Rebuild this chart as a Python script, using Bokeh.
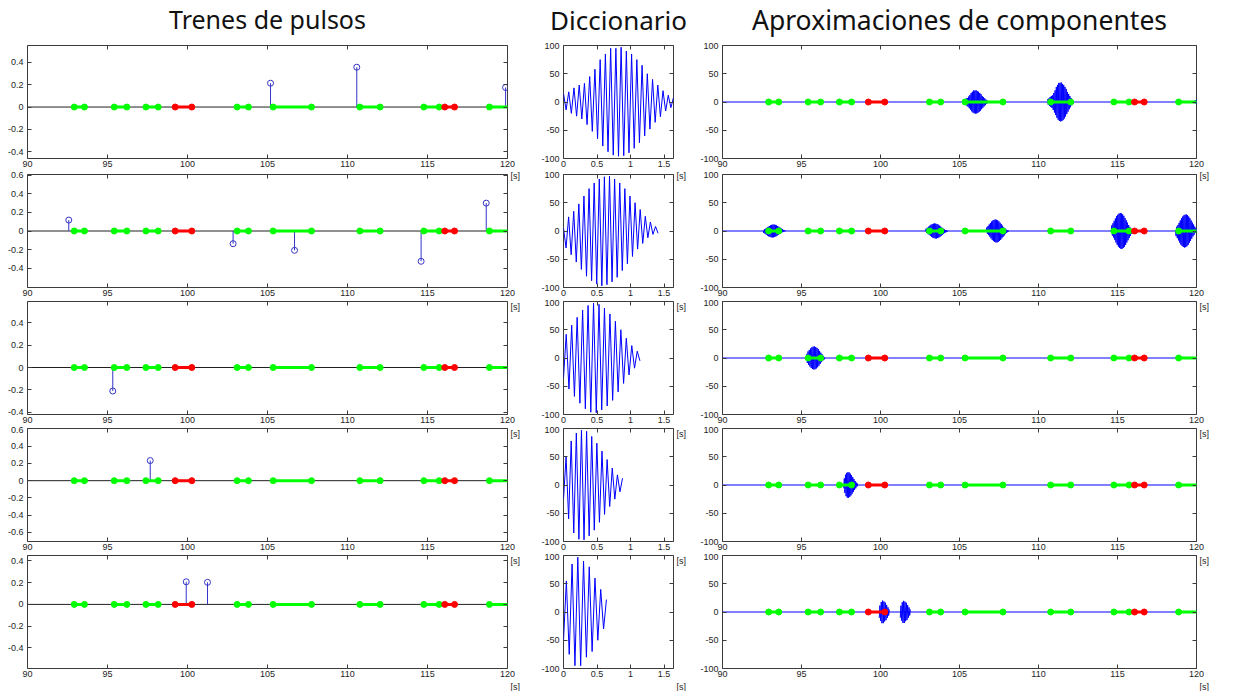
import numpy as np
from bokeh.plotting import figure
from bokeh.models import (Range1d, LinearAxis, FixedTicker, Span, Title,
                          CustomJSTickFormatter)
from bokeh.core.properties import value
from bokeh.layouts import column, row
from bokeh.embed import file_html
from bokeh.resources import INLINE

# ---------------- data ----------------
TITLES = ["Trenes de pulsos", "Diccionario", "Aproximaciones de componentes"]
TIME_WINDOW = (90, 120)
TIME_TICKS = [90, 95, 100, 105, 110, 115, 120]
UNIT = "[s]"

# marked intervals (same in every time panel)
GREEN_START = [92.92, 95.42, 97.40, 103.10, 105.35, 110.77, 114.77, 118.87]
GREEN_END = [93.56, 96.21, 98.17, 103.81, 107.75, 112.04, 115.73, 120.60]
RED_START = [99.23, 116.08]
RED_END = [100.27, 116.69]

# pulse trains (one list per row)
PULSE_T = [
    [105.19, 110.58, 119.88],
    [92.58, 102.85, 106.69, 114.60, 118.67],
    [95.33],
    [97.67],
    [99.92, 101.25],
]
PULSE_V = [
    [0.213, 0.356, 0.175],
    [0.118, -0.137, -0.209, -0.327, 0.301],
    [-0.21],
    [0.233],
    [0.208, 0.203],
]
PULSE_YLIM = [(-0.46, 0.55), (-0.61, 0.61), (-0.42, 0.59), (-0.705, 0.605), (-0.59, 0.45)]
PULSE_YTICKS = [
    [-0.4, -0.2, 0, 0.2, 0.4],
    [-0.4, -0.2, 0, 0.2, 0.4, 0.6],
    [-0.4, -0.2, 0, 0.2, 0.4],
    [-0.6, -0.4, -0.2, 0, 0.2, 0.4, 0.6],
    [-0.4, -0.2, 0, 0.2, 0.4],
]

# dictionary atoms: successive extrema (start, peaks/troughs, end), spread over the atom duration
ATOM_DUR = [1.64, 1.41, 1.14, 0.88, 0.64]
ATOM_1 = [15, -14, 18, -20, 25, -25, 30, -30, 33, -40, 45, -52, 58, -65, 75, -78, 85, -88,
          95, -94, 95, -96, 97, -95, 90, -90, 85, -82, 75, -72, 65, -60, 50, -48, 40, -36,
          30, -26, 20, -16, 12, -10, 8]
ATOM_2 = [5, -30, 25, -42, 35, -55, 48, -68, 62, -80, 75, -88, 85, -94, 92, -97, 96, -95,
          97, -90, 92, -82, 85, -70, 75, -58, 62, -45, 50, -32, 38, -22, 26, -12, 16, -6, 8, -4]
ATOM_3 = [-35, 42, -55, 58, -68, 72, -80, 85, -90, 93, -96, 97, -97, 95, -92, 88, -85, 78,
          -75, 65, -60, 50, -45, 35, -30, 22, -18, 12, -5]
ATOM_4 = [-25, 50, -60, 78, -85, 92, -96, 97, -97, 95, -90, 86, -80, 74, -66, 60, -52, 45,
          -38, 30, -25, 18, -12, 12]
ATOM_5 = [-50, 55, -75, 85, -95, 97, -95, 90, -80, 80, -70, 60, -50, 40, -30, 22]
ATOMS = [ATOM_1, ATOM_2, ATOM_3, ATOM_4, ATOM_5]
DICT_XLIM = (0, 1.64)
DICT_XTICKS = [0, 0.5, 1, 1.5]
AMP_LIM = (-100, 100)
AMP_TICKS = [-100, -50, 0, 50, 100]

# ---------------- style / layout ----------------
HEADER_H = 42
TITLE_TOP = 1                # px from top of page to the top of the title text box
FRAME_H = 113
ROW_TOP = [3, 4, 2, 2, 2]
ROW_BOTTOM = [12, 12, 12, 12, 23]
COL_FRAME_W = [480, 110, 474]
COL_LEFT = [27, 40, 33]
COL_RIGHT = [16, 16, 30]
TITLE_SIZE = ["25px", "26px", "26.5px"]
BOX = "#3c3c3c"
TXT = "#1e1e1e"
TICK_FONT = "Liberation Sans"
TITLE_FONT = "Noto Sans"
STEM = "#3535c8"
GREEN = "#00ff00"
RED = "#ff0000"
WAVE = "#0000ff"

num_fmt = CustomJSTickFormatter(code="return String(tick);")
blank_fmt = CustomJSTickFormatter(code="return '';")
unit_fmt = CustomJSTickFormatter(code="return '%s';" % UNIT)


def style_axis(ax, ticks, show_labels, standoff):
    ax.ticker = FixedTicker(ticks=ticks)
    ax.minor_tick_line_color = None
    ax.major_tick_in = 4
    ax.major_tick_out = 0
    ax.major_tick_line_color = BOX
    ax.axis_line_color = None
    ax.major_label_text_font = TICK_FONT
    ax.major_label_text_color = TXT
    if show_labels:
        ax.formatter = num_fmt
        ax.major_label_text_font_size = "9px"
        ax.major_label_standoff = standoff
    else:
        ax.formatter = blank_fmt
        ax.major_label_text_font_size = "1px"
        ax.major_label_standoff = 0


def make_fig(r, c, xr, yr, xticks, yticks):
    p = figure(frame_width=COL_FRAME_W[c], frame_height=FRAME_H,
               x_range=Range1d(*xr), y_range=Range1d(*yr),
               min_border_left=COL_LEFT[c], min_border_right=COL_RIGHT[c],
               min_border_top=ROW_TOP[r], min_border_bottom=ROW_BOTTOM[r],
               output_backend="svg", toolbar_location=None, title=None,
               background_fill_color="white", border_fill_color="white",
               outline_line_color=BOX, outline_line_width=1)
    p.xgrid.visible = False
    p.ygrid.visible = False
    style_axis(p.xaxis[0], xticks, True, 2)
    style_axis(p.yaxis[0], yticks, True, 4)
    top = LinearAxis()
    style_axis(top, xticks, False, 0)
    p.add_layout(top, "above")
    right = LinearAxis()
    style_axis(right, yticks, False, 0)
    p.add_layout(right, "right")
    if r > 0:
        # unit label of the panel above, shown at this panel's top-right corner
        span = yr[1] - yr[0]
        upos = yr[1] - span * 1.0 / FRAME_H
        unit_ax = LinearAxis(ticker=FixedTicker(ticks=[upos]), formatter=unit_fmt,
                             major_tick_line_color=None, minor_tick_line_color=None,
                             axis_line_color=None, major_tick_in=0, major_tick_out=0,
                             major_label_standoff=3, major_label_text_font=TICK_FONT,
                             major_label_text_font_size="9px", major_label_text_color=TXT)
        p.add_layout(unit_ax, "right")
    if r == 4:
        p.add_layout(Title(text=UNIT, align="left", offset=COL_FRAME_W[c] + 3,
                           text_font=TICK_FONT, text_font_size="9px",
                           text_font_style="normal", text_color=TXT, standoff=0), "below")
    return p


def add_intervals(p):
    p.segment(x0=GREEN_START, y0=[0] * len(GREEN_START), x1=GREEN_END, y1=[0] * len(GREEN_END),
              line_color=GREEN, line_width=3)
    p.scatter(x=GREEN_START + GREEN_END, y=[0] * (2 * len(GREEN_START)), marker="circle",
              size=6, fill_color=GREEN, line_color=GREEN)
    p.segment(x0=RED_START, y0=[0] * len(RED_START), x1=RED_END, y1=[0] * len(RED_END),
              line_color=RED, line_width=3)
    p.scatter(x=RED_START + RED_END, y=[0] * (2 * len(RED_START)), marker="circle",
              size=6, fill_color=RED, line_color=RED)


# ---- header with the three column titles ----
col_w = [COL_LEFT[i] + COL_FRAME_W[i] + COL_RIGHT[i] for i in range(3)]
total_w = sum(col_w)
header = figure(width=total_w, height=HEADER_H, x_range=Range1d(0, total_w),
                y_range=Range1d(0, HEADER_H), min_border=0, toolbar_location=None,
                output_backend="svg", x_axis_location=None, y_axis_location=None,
                title=None, outline_line_color=None, background_fill_color="white",
                border_fill_color="white")
header.xgrid.visible = False
header.ygrid.visible = False
for i in range(3):
    cx = sum(col_w[:i]) + COL_LEFT[i] + COL_FRAME_W[i] / 2.0
    header.text(x=[cx], y=[HEADER_H - TITLE_TOP], text=[TITLES[i]],
                text_font=value(TITLE_FONT), text_font_size=value(TITLE_SIZE[i]),
                text_align="center", text_baseline="top", text_color="#111111")

rows = [header]
for r in range(5):
    atom_v = np.array(ATOMS[r], dtype=float)
    atom_t = np.linspace(0, ATOM_DUR[r], len(atom_v))

    # pulse train
    pl = make_fig(r, 0, TIME_WINDOW, PULSE_YLIM[r], TIME_TICKS, PULSE_YTICKS[r])
    pl.add_layout(Span(location=0, dimension="width", line_color="#202020", line_width=1,
                       level="underlay"))
    pl.segment(x0=PULSE_T[r], y0=[0] * len(PULSE_T[r]), x1=PULSE_T[r], y1=PULSE_V[r],
               line_color=STEM, line_width=1)
    pl.scatter(x=PULSE_T[r], y=PULSE_V[r], marker="circle", size=6, fill_color=None,
               line_color=STEM, line_width=1)
    add_intervals(pl)

    # dictionary atom
    pm = make_fig(r, 1, DICT_XLIM, AMP_LIM, DICT_XTICKS, AMP_TICKS)
    pm.line(atom_t, atom_v, line_color=WAVE, line_width=1)

    # component approximation: each pulse times the atom
    pr = make_fig(r, 2, TIME_WINDOW, AMP_LIM, TIME_TICKS, AMP_TICKS)
    pr.add_layout(Span(location=0, dimension="width", line_color=WAVE, line_width=1,
                       level="underlay"))
    xs = [list(t0 + atom_t) for t0 in PULSE_T[r]]
    ys = [list(v * atom_v) for v in PULSE_V[r]]
    pr.multi_line(xs=xs, ys=ys, line_color=WAVE, line_width=1)
    add_intervals(pr)

    rows.append(row(pl, pm, pr))

layout = column(*rows)
open("out.html", "w").write(file_html(layout, INLINE))
